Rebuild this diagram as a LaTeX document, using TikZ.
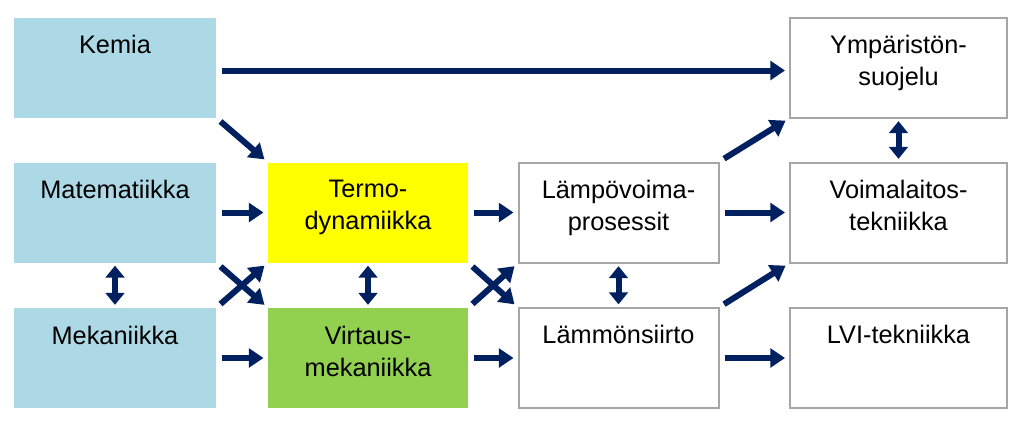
\documentclass[tikz,border=0pt]{standalone}
\usepackage{fontspec}
\setmainfont{Liberation Sans}
\usetikzlibrary{arrows.meta}
\definecolor{boxblue}{RGB}{173,216,230}
\definecolor{boxyellow}{RGB}{255,255,0}
\definecolor{boxgreen}{RGB}{146,208,80}
\definecolor{boxgray}{RGB}{166,166,166}
\definecolor{arrownavy}{RGB}{0,32,96}
\tikzset{every picture/.style={line width=0.75pt}}

\begin{document}
\begin{tikzpicture}[x=0.75pt,y=0.75pt,yscale=-1,xscale=1,
  box/.style={minimum width=200*0.75pt,minimum height=100*0.75pt,inner sep=0pt},
  bluebox/.style={box,fill=boxblue,minimum width=202*0.75pt},
  whitebox/.style={box,draw=boxgray,line width=1.5pt,fill=white},
  txt/.style={anchor=north,inner sep=0pt,align=center,font=\fontsize{19}{24}\selectfont},
  arr/.style={draw=arrownavy,line width=4.5pt,-{Triangle[length=11pt,width=14pt]},shorten <=4pt,shorten >=3pt},
  darr/.style={draw=arrownavy,line width=4.5pt,{Triangle[length=9pt,width=14pt]}-{Triangle[length=9pt,width=14pt]},shorten <=2pt,shorten >=2pt}]
\useasboundingbox (0,0) rectangle (1023,421);

% boxes
\node [bluebox] (kem) at (115,67.5) {};
\node [bluebox] (mat) at (115,212.5) {};
\node [bluebox] (mek) at (115,358) {};
\node [box,fill=boxyellow] (ter) at (368,212.5) {};
\node [box,fill=boxgreen] (vir) at (368,358) {};
\node [whitebox] (lvo) at (618.5,212.5) {};
\node [whitebox] (lsi) at (618.5,358) {};
\node [whitebox,minimum width=217*0.75pt] (ymp) at (898.5,67.5) {};
\node [whitebox,minimum width=217*0.75pt] (voi) at (898.5,212.5) {};
\node [whitebox,minimum width=217*0.75pt] (lvi) at (898.5,358) {};

% labels
\node [txt] (tkem) at ([yshift=18*0.75pt]kem.north) {Kemia};
\node [txt] (tmat) at ([yshift=18*0.75pt]mat.north) {Matematiikka};
\node [txt] (tmek) at ([yshift=18*0.75pt]mek.north) {Mekaniikka};
\node [txt] (tter) at ([yshift=18*0.75pt]ter.north) {Termo-\\dynamiikka};
\node [txt] (tvir) at ([yshift=18*0.75pt]vir.north) {Virtaus-\\mekaniikka};
\node [txt] (tlvo) at ([yshift=18*0.75pt]lvo.north) {Lämpövoima-\\prosessit};
\node [txt] (tlsi) at ([yshift=18*0.75pt]lsi.north) {Lämmönsiirto};
\node [txt] (tymp) at ([yshift=18*0.75pt]ymp.north) {Ympäristön-\\suojelu};
\node [txt] (tvoi) at ([yshift=18*0.75pt]voi.north) {Voimalaitos-\\tekniikka};
\node [txt] (tlvi) at ([yshift=18*0.75pt]lvi.north) {LVI-tekniikka};

% arrows
\draw [arr] ([yshift=3*0.75pt]kem.east) -- ([yshift=3*0.75pt]ymp.west);
\draw [arr] (kem.south east) -- (ter.north west);
\draw [arr] (mat.east) -- (ter.west);
\draw [arr] (mat.south east) -- (vir.north west);
\draw [arr] (mek.north east) -- (ter.south west);
\draw [arr] (mek.east) -- (vir.west);
\draw [arr] (ter.east) -- (lvo.west);
\draw [arr] (ter.south east) -- (lsi.north west);
\draw [arr] (vir.north east) -- (lvo.south west);
\draw [arr] (vir.east) -- (lsi.west);
\draw [arr] (lvo.north east) -- (ymp.south west);
\draw [arr] (lvo.east) -- (voi.west);
\draw [arr] (lsi.north east) -- (voi.south west);
\draw [arr] (lsi.east) -- (lvi.west);
\draw [darr] (mat.south) -- (mek.north);
\draw [darr] (ter.south) -- (vir.north);
\draw [darr] (lvo.south) -- (lsi.north);
\draw [darr] (ymp.south) -- (voi.north);

\end{tikzpicture}
\end{document}
